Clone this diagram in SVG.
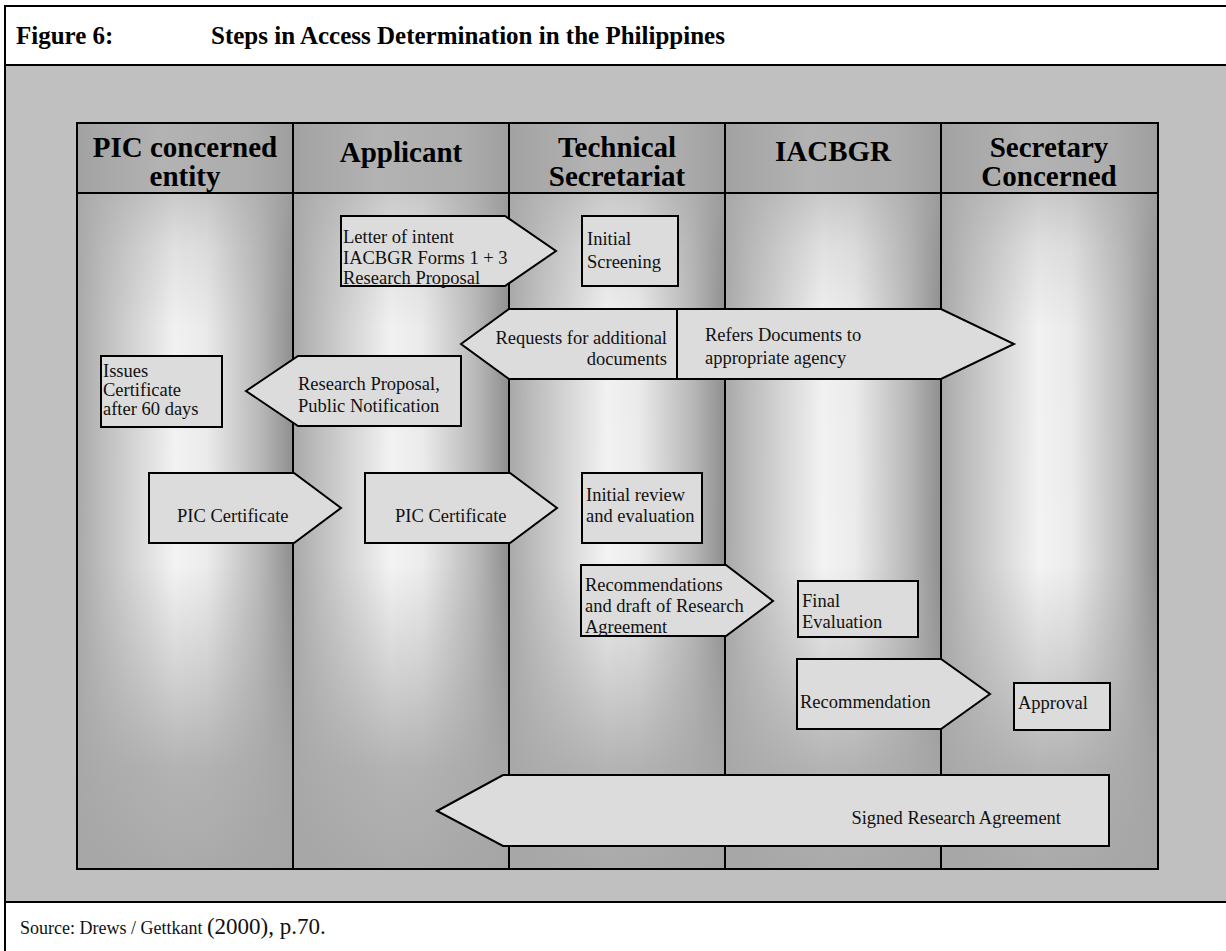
<svg xmlns="http://www.w3.org/2000/svg" width="1226" height="951" viewBox="0 0 1226 951">
<defs>
<linearGradient id="laneH" x1="0" y1="0" x2="1" y2="0">
<stop offset="0" stop-color="#a8a8a8"/>
<stop offset="0.12" stop-color="#bebebe"/>
<stop offset="0.45" stop-color="#f3f3f3"/>
<stop offset="0.6" stop-color="#ececec"/>
<stop offset="0.85" stop-color="#b8b8b8"/>
<stop offset="1" stop-color="#8e8e8e"/>
</linearGradient>
<linearGradient id="laneV" x1="0" y1="0" x2="0" y2="1">
<stop offset="0" stop-color="#a8a8a8" stop-opacity="0.55"/>
<stop offset="0.08" stop-color="#a8a8a8" stop-opacity="0.25"/>
<stop offset="0.2" stop-color="#a8a8a8" stop-opacity="0.03"/>
<stop offset="0.55" stop-color="#a8a8a8" stop-opacity="0"/>
<stop offset="0.7" stop-color="#a8a8a8" stop-opacity="0.4"/>
<stop offset="0.85" stop-color="#a8a8a8" stop-opacity="0.85"/>
<stop offset="1" stop-color="#a6a6a6" stop-opacity="0.95"/>
</linearGradient>
<linearGradient id="headH" x1="0" y1="0" x2="1" y2="0">
<stop offset="0" stop-color="#a2a2a2"/>
<stop offset="0.4" stop-color="#b3b3b3"/>
<stop offset="0.8" stop-color="#acacac"/>
<stop offset="1" stop-color="#9e9e9e"/>
</linearGradient>
</defs>
<style>
.ln{stroke:#000;stroke-width:2;fill:none}
.shp{fill:#dcdcdc;stroke:#000;stroke-width:2;stroke-linejoin:miter}
.t{font-family:"Liberation Serif","Times New Roman",serif;font-size:18.5px;fill:#111}
.h{font-family:"Liberation Serif","Times New Roman",serif;font-size:29px;font-weight:bold;fill:#000;text-anchor:middle}
.ttl{font-family:"Liberation Serif","Times New Roman",serif;font-size:25px;font-weight:bold;fill:#000}
.ft{font-family:"Liberation Serif","Times New Roman",serif;font-size:18px;fill:#111}
</style>
<rect x="0" y="0" width="1226" height="951" fill="#fff"/>
<g id="frame">
<rect x="5" y="65" width="1225" height="837" fill="#c0c0c0"/>
<rect x="5" y="6" width="1225" height="960" class="ln"/>
<line x1="5" y1="65" x2="1226" y2="65" class="ln"/>
<line x1="5" y1="902" x2="1226" y2="902" class="ln"/>
<text x="16" y="44" class="ttl">Figure 6:</text>
<text x="211" y="44" class="ttl">Steps in Access Determination in the Philippines</text>
<text x="20" y="934" class="ft">Source: Drews / Gettkant <tspan font-size="23">(2000), p.70.</tspan></text>
</g>
<g id="lanes">
<g id="lane-pic">
<rect x="77" y="123" width="216" height="70" fill="url(#headH)"/>
<rect x="77" y="193" width="216" height="676" fill="url(#laneH)"/>
<text x="185" y="157" class="h">PIC concerned</text>
<text x="185" y="186" class="h">entity</text>
</g>
<g id="lane-applicant">
<rect x="293" y="123" width="216" height="70" fill="url(#headH)"/>
<rect x="293" y="193" width="216" height="676" fill="url(#laneH)"/>
<text x="401" y="162" class="h">Applicant</text>
</g>
<g id="lane-techsec">
<rect x="509" y="123" width="216" height="70" fill="url(#headH)"/>
<rect x="509" y="193" width="216" height="676" fill="url(#laneH)"/>
<text x="617" y="157" class="h">Technical</text>
<text x="617" y="186" class="h">Secretariat</text>
</g>
<g id="lane-iacbgr">
<rect x="725" y="123" width="216" height="70" fill="url(#headH)"/>
<rect x="725" y="193" width="216" height="676" fill="url(#laneH)"/>
<text x="833" y="161" class="h">IACBGR</text>
</g>
<g id="lane-secretary">
<rect x="941" y="123" width="217" height="70" fill="url(#headH)"/>
<rect x="941" y="193" width="217" height="676" fill="url(#laneH)"/>
<text x="1049" y="157" class="h">Secretary</text>
<text x="1049" y="186" class="h">Concerned</text>
</g>
<rect x="77" y="193" width="1081" height="676" fill="url(#laneV)"/>
<rect x="77" y="123" width="1081" height="746" class="ln"/>
<line x1="77" y1="193" x2="1158" y2="193" class="ln"/>
<line x1="293" y1="123" x2="293" y2="869" class="ln"/>
<line x1="509" y1="123" x2="509" y2="869" class="ln"/>
<line x1="725" y1="123" x2="725" y2="869" class="ln"/>
<line x1="941" y1="123" x2="941" y2="869" class="ln"/>
</g>
<g id="n-initial-screening">
<rect x="582" y="216" width="96" height="70" class="shp"/>
<text class="t" x="587" y="245">Initial</text>
<text class="t" x="587" y="268">Screening</text>
</g>
<g id="n-issues-certificate">
<rect x="101" y="356" width="121" height="71" class="shp"/>
<text class="t" x="103" y="377" font-size="16.5">Issues</text>
<text class="t" x="103" y="396" font-size="16.5">Certificate</text>
<text class="t" x="103" y="415" font-size="16.5">after 60 days</text>
</g>
<g id="n-initial-review">
<rect x="582" y="473" width="120" height="70" class="shp"/>
<text class="t" x="586" y="501">Initial review</text>
<text class="t" x="586" y="522">and evaluation</text>
</g>
<g id="n-final-evaluation">
<rect x="798" y="581" width="120" height="56" class="shp"/>
<text class="t" x="802" y="607">Final</text>
<text class="t" x="802" y="628">Evaluation</text>
</g>
<g id="n-approval">
<rect x="1014" y="683" width="96" height="47" class="shp"/>
<text class="t" x="1018" y="709">Approval</text>
</g>
<g id="connectors">
<g id="c-letter">
<polygon points="341,216 505,216 556,251 505,286 341,286" class="shp"/>
<text class="t" x="343" y="243">Letter of intent</text>
<text class="t" x="343" y="264">IACBGR Forms 1 + 3</text>
<text class="t" x="343" y="284">Research Proposal</text>
</g>
<g id="c-requests-refers">
<polygon points="461,344 509,309 941,309 1014,344 941,379 509,379" class="shp"/>
<line x1="677" y1="309" x2="677" y2="379" class="ln"/>
<text class="t" x="667" y="344" text-anchor="end">Requests for additional</text>
<text class="t" x="667" y="365" text-anchor="end">documents</text>
<text class="t" x="705" y="341">Refers Documents to</text>
<text class="t" x="705" y="364">appropriate agency</text>
</g>
<g id="c-research-proposal">
<polygon points="246,391 298,356 461,356 461,426 298,426" class="shp"/>
<text class="t" x="298" y="390">Research Proposal,</text>
<text class="t" x="298" y="412">Public Notification</text>
</g>
<g id="c-pic-1">
<polygon points="149,473 294,473 341,508 294,543 149,543" class="shp"/>
<text class="t" x="177" y="522">PIC Certificate</text>
</g>
<g id="c-pic-2">
<polygon points="365,473 510,473 557,508 510,543 365,543" class="shp"/>
<text class="t" x="395" y="522">PIC Certificate</text>
</g>
<g id="c-recommendations">
<polygon points="581,565 726,565 773,601 726,636 581,636" class="shp"/>
<text class="t" x="585" y="591">Recommendations</text>
<text class="t" x="585" y="612">and draft of Research</text>
<text class="t" x="585" y="633">Agreement</text>
</g>
<g id="c-recommendation">
<polygon points="797,659 941,659 990,694 941,729 797,729" class="shp"/>
<text class="t" x="800" y="708">Recommendation</text>
</g>
<g id="c-signed">
<polygon points="437,811 503,775 1109,775 1109,846 503,846" class="shp"/>
<text class="t" x="1061" y="824" text-anchor="end">Signed Research Agreement</text>
</g>
</g>
</svg>
